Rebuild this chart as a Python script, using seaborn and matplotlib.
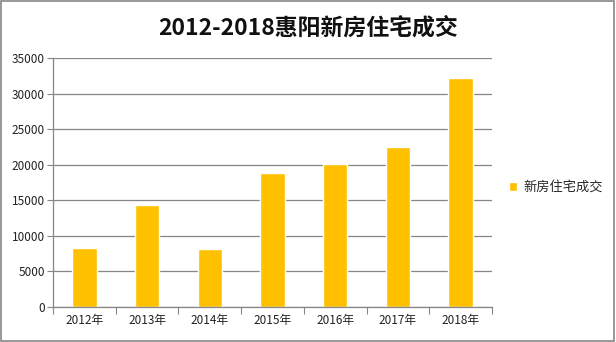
import matplotlib
matplotlib.use("Agg")
import matplotlib.pyplot as plt
import seaborn as sns
import pandas as pd
import numpy as np

years = ["2012年", "2013年", "2014年", "2015年", "2016年", "2017年", "2018年"]
values = [8300, 14300, 8100, 18800, 20100, 22500, 32200]
series_name = "新房住宅成交"
title = "2012-2018惠阳新房住宅成交"
yticks = [0, 5000, 10000, 15000, 20000, 25000, 30000, 35000]

sns.set_theme(style="white")
plt.rcParams['font.family'] = ['Noto Sans CJK SC', 'DejaVu Sans']

df = pd.DataFrame({"year": years, "value": values, "series": series_name})

fig = plt.figure(figsize=(6.16, 3.42), dpi=100)
ax = fig.add_axes([53/616, 1 - 307/342, (492-53)/616, (307-58)/342])

sns.barplot(data=df, x="year", y="value", hue="series", palette=["#FFC000"],
            width=0.39, ax=ax, saturation=1, legend=True)

ax.set_ylim(0, 35000)
ax.set_xlim(-0.5, len(years) - 0.5)
ax.set_yticks(yticks)
ax.set_yticklabels([str(t) for t in yticks], fontsize=8.5, color="#222222")
ax.tick_params(axis="x", labelsize=8.5, colors="#222222", length=0, pad=5)
ax.tick_params(axis="y", length=4, width=0.8, color="#868686", pad=2, left=True)
ax.set_xticks(np.arange(-0.5, len(years), 1), minor=True)
ax.tick_params(axis="x", which="minor", length=5, width=0.8, color="#868686", bottom=True)
ax.set_xlabel("")
ax.set_ylabel("")
ax.yaxis.grid(True, color="#868686", linewidth=0.9)
ax.set_axisbelow(True)
for s in ["top", "right"]:
    ax.spines[s].set_visible(False)
for s in ["left", "bottom"]:
    ax.spines[s].set_color("#868686")
    ax.spines[s].set_linewidth(0.9)

leg = ax.legend(loc="center left", bbox_to_anchor=(1.012, 0.48), frameon=False,
                fontsize=9.5, handlelength=0.6, handleheight=0.6, handletextpad=0.5)

fig.text(0.5, 1 - 28/342, title, ha="center", va="center", fontsize=16.5, fontweight="bold",
         color="#111111")

border = plt.Rectangle((0.002, 0.003), 0.995, 0.993, transform=fig.transFigure,
                       fill=False, edgecolor="#868686", linewidth=1.2)
fig.patches.append(border)

fig.savefig("out.png", dpi=100)
